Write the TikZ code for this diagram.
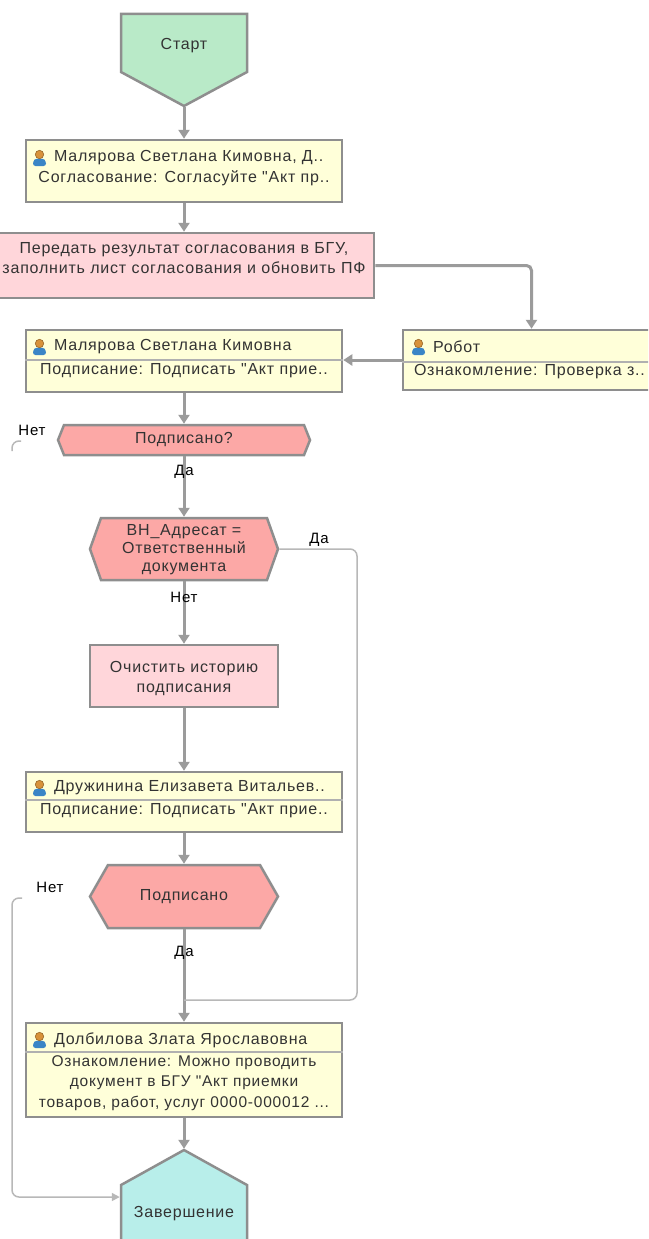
\documentclass[tikz,border=0pt]{standalone}
\usepackage{fontspec}
\setmainfont{Liberation Sans}
\newfontfamily\diagfont{Liberation Sans}[LetterSpace=5]
\usetikzlibrary{arrows.meta}
\definecolor{startg}{HTML}{B9EAC8}
\definecolor{boxy}{HTML}{FFFFD9}
\definecolor{pinkb}{HTML}{FFD6DA}
\definecolor{hexr}{HTML}{FCA8A6}
\definecolor{endc}{HTML}{B8EEEA}
\definecolor{bord}{HTML}{8E8E8E}
\definecolor{conng}{HTML}{9B9B9B}
\definecolor{thing}{HTML}{B8B8B8}
\definecolor{txt}{HTML}{333333}
\definecolor{headc}{HTML}{D8923A}
\definecolor{bodyc}{HTML}{3A85C6}
\tikzset{usericon/.pic={
  \fill[bodyc, rounded corners=2.5pt] (0,17) -- (0,12) -- (3,9.5) -- (10,9.5) -- (13,12) -- (13,17) -- cycle;
  \filldraw[fill=headc, draw=headc!70!black, line width=0.6pt] (6.5,5.5) circle (4.2pt);
}}
\begin{document}
\begin{tikzpicture}[x=1pt,y=-1pt,
  shp/.style={draw=bord, line width=2.5pt, line join=miter},
  anch/.style={draw=none, inner sep=0pt, outer sep=1.25pt},
  box/.style={shp, fill=boxy, inner sep=0pt, minimum width=316pt},
  tx/.style={text=txt, font=\diagfont\fontsize{16}{20}\selectfont, inner sep=0pt, outer sep=0pt},
  lbl/.style={text=black, font=\diagfont\fontsize{15}{16}\selectfont, inner sep=0pt},
  conn/.style={draw=conng, line width=3pt, -{Triangle[width=11pt,length=9pt]}},
  thinc/.style={draw=thing, line width=1.5pt, rounded corners=7pt},
  sepl/.style={draw=bord!70, line width=1.2pt}
]
\clip (0,0) rectangle (648,1239);
\fill[white] (0,0) rectangle (648,1239);

% Start
\filldraw[shp, fill=startg] (121,14) -- (247,14) -- (247,72) -- (184,106) -- (121,72) -- cycle;
\node[anch, minimum width=126pt, minimum height=92pt] (st) at (184,60) {};
\node[tx] (stt) at (184,46) {Старт};

% Box 1
\node[box, minimum height=62pt] (b1) at (184,171) {};
\pic at (33,149) {usericon};
\node[tx, anchor=west] (b1a) at (54,158) {Малярова Светлана Кимовна, Д..};
\node[tx] (b1b) at (184,178) {Согласование: Согласуйте "Акт пр..};

% Pink action
\node[shp, fill=pinkb, minimum width=380pt, minimum height=65pt] (pk) at (184,265.5) {};
\node[tx, align=center] (pkt) at (184,258) {Передать результат согласования в БГУ,\\заполнить лист согласования и обновить ПФ};

% Box 3
\node[box, minimum height=62pt] (b3) at (184,361) {};
\draw[sepl] (b3.west |- 0,360) -- (b3.east |- 0,360);
\pic at (33,338) {usericon};
\node[tx, anchor=west] (b3a) at (54,347) {Малярова Светлана Кимовна};
\node[tx] (b3b) at (184,371) {Подписание: Подписать "Акт прие..};

% Robot
\node[shp, fill=boxy, minimum width=257pt, minimum height=60pt] (rb) at (531.5,360) {};
\draw[sepl] (rb.west |- 0,362) -- (rb.east |- 0,362);
\pic at (412,338) {usericon};
\node[tx, anchor=west] (rba) at (433,347) {Робот};
\node[tx, anchor=west] (rbb) at (414,372) {Ознакомление: Проверка з..};

% Hex 1
\filldraw[shp, fill=hexr] (58,440) -- (64,425) -- (304,425) -- (310,440) -- (304,455) -- (64,455) -- cycle;
\node[anch, minimum width=252pt, minimum height=30pt] (h1) at (184,440) {};
\node[tx] (h1t) at (184,440) {Подписано?};

% Hex 2
\filldraw[shp, fill=hexr] (90,549) -- (101,518) -- (267,518) -- (278,549) -- (267,580) -- (101,580) -- cycle;
\node[anch, minimum width=188pt, minimum height=62pt] (h2) at (184,549) {};
\node[tx, align=center, font=\diagfont\fontsize{16}{18}\selectfont] (h2t) at (184,550) {ВН\_Адресат =\\Ответственный\\документа};

% Clear history
\node[shp, fill=pinkb, minimum width=188pt, minimum height=62pt] (clr) at (184,676) {};
\node[tx, align=center] (clrt) at (184,678) {Очистить историю\\подписания};

% Box 4
\node[box, minimum height=60pt] (b4) at (184,802) {};
\draw[sepl] (b4.west |- 0,800) -- (b4.east |- 0,800);
\pic at (33,779) {usericon};
\node[tx, anchor=west] (b4a) at (54,788) {Дружинина Елизавета Витальев..};
\node[tx] (b4b) at (184,811) {Подписание: Подписать "Акт прие..};

% Hex 3
\filldraw[shp, fill=hexr] (90,896.5) -- (108,865) -- (260,865) -- (278,896.5) -- (260,928) -- (108,928) -- cycle;
\node[anch, minimum width=188pt, minimum height=63pt] (h3) at (184,896.5) {};
\node[tx] (h3t) at (184,897) {Подписано};

% Box 5
\node[box, minimum height=94pt] (b5) at (184,1070) {};
\draw[sepl] (b5.west |- 0,1052) -- (b5.east |- 0,1052);
\pic at (33,1031) {usericon};
\node[tx, anchor=west] (b5a) at (54,1040) {Долбилова Злата Ярославовна};
\node[tx, align=center, font=\diagfont\fontsize{15.5}{20.5}\selectfont] (b5b) at (184,1083) {Ознакомление: Можно проводить\\документ в БГУ "Акт приемки\\товаров, работ, услуг 0000-000012 ...};

% End
\filldraw[shp, fill=endc] (184,1150) -- (247,1185) -- (247,1260) -- (121,1260) -- (121,1185) -- cycle;
\node[anch, minimum width=126pt, minimum height=110pt] (en) at (184,1205) {};
\node[tx] (ent) at (184,1214) {Завершение};

% Connectors
\draw[conn] (st.south) -- (b1.north);
\draw[conn] (b1.south) -- (pk.north);
\draw[conn, rounded corners=5pt] (pk.east) -| (rb.north);
\draw[conn] (rb.west) -- (b3.east |- rb.west);
\draw[conn] (b3.south) -- (h1.north);
\draw[conn] (h1.south) -- (h2.north);
\draw[conn] (h2.south) -- (clr.north);
\draw[conn] (clr.south) -- (b4.north);
\draw[conn] (b4.south) -- (h3.north);
\draw[conn] (h3.south) -- (b5.north);
\draw[conn] (b5.south) -- (en.north);

\coordinate (mg) at (184,1000);
\draw[thinc] (h2.east) -- (357,549) -- (357,1000) -- (mg);
\coordinate (n3) at (22,898);
\draw[thinc, -{Triangle[width=8pt,length=8pt]}] (n3) -- (12,898) -- (12,1197) -- (en.west |- 0,1197);
\coordinate (n1) at (21,441);
\draw[thinc] (n1) -- (12,441) -- (12,451);

% Labels
\node[lbl] (l1) at (32,430) {Нет};
\node[lbl] (l2) at (184,472) {Да};
\node[lbl] (l3) at (319,540) {Да};
\node[lbl] (l4) at (184,597) {Нет};
\node[lbl] (l5) at (50,887) {Нет};
\node[lbl] (l6) at (184,953) {Да};
\end{tikzpicture}
\end{document}
